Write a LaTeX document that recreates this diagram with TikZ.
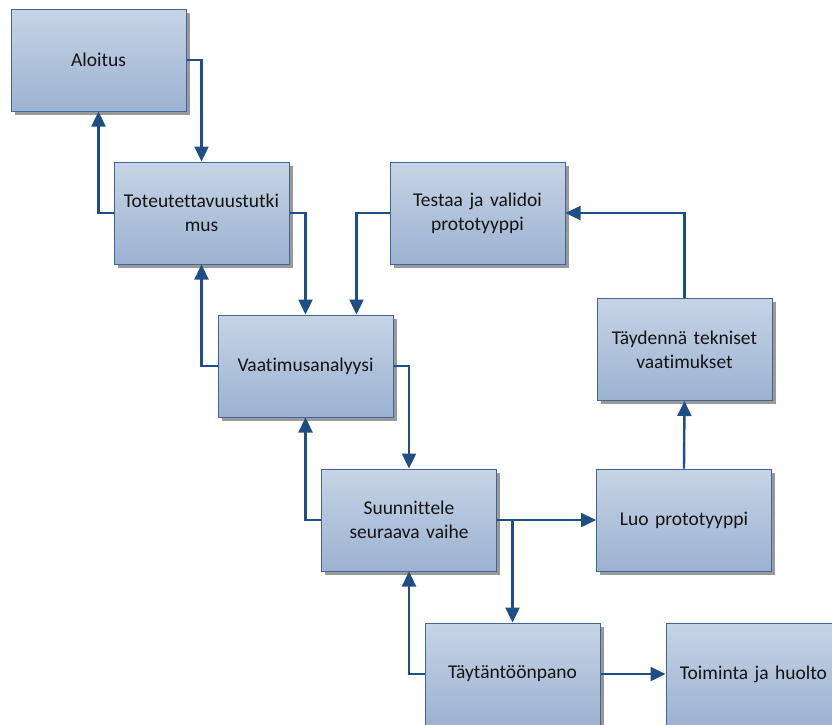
\documentclass[tikz,border=0pt]{standalone}
\usepackage{fontspec}
\setmainfont[Ligatures={NoCommon}]{Carlito}
\usetikzlibrary{arrows.meta,shadows}
\definecolor{boxtop}{HTML}{C6D4E5}
\definecolor{boxbot}{HTML}{9CB2D1}
\definecolor{boxline}{HTML}{3F6698}
\definecolor{linkcol}{HTML}{1F4E87}
\tikzset{
  stage/.style={draw=boxline, line width=1pt, top color=boxtop, bottom color=boxbot,
    minimum width=173pt, minimum height=102pt, align=center, inner sep=2pt,
    text width=171pt, font=\fontsize{19.5}{24}\selectfont, text=black!92,
    drop shadow={shadow xshift=3.5pt, shadow yshift=-3.5pt, fill=black!40, opacity=1}},
  link/.style={draw=linkcol, line width=2.4pt, -{Triangle[length=15pt,width=14pt]}}
}
\begin{document}
\begin{tikzpicture}[x=1pt,y=-1pt]
\useasboundingbox (0,0) rectangle (832,724);
\clip (0,0) rectangle (832,724);
\node[stage] (A)  at (98.5,60)   {Aloitus};
\node[stage] (T)  at (201.5,213) {Toteutettavuustutki\\mus};
\node[stage] (Te) at (477.5,213) {Testaa ja validoi\\prototyyppi};
\node[stage] (V)  at (305.5,366) {Vaatimusanalyysi};
\node[stage] (Td) at (684.5,349.5) {Täydennä tekniset\\vaatimukset};
\node[stage] (S)  at (409,520)   {Suunnittele\\seuraava vaihe};
\node[stage] (L)  at (684,520)   {Luo prototyyppi};
\node[stage] (Ty) at (512.5,674) {Täytäntöönpano};
\node[stage] (To) at (753.5,674) {Toiminta ja huolto};
% flow between the stages
\draw[link] (A.east) -| (T.north);
\draw[link] (T.west) -| (A.south);
\draw[link] (T.east) -| (V.north);
\draw[link] (Te.west) -| ([xshift=51pt]V.north);
\draw[link] (V.west) -| (T.south);
\draw[link] (V.east) -| (S.north);
\draw[link] (S.west) -| (V.south);
\draw[link] (S.east) -- (L.west);
\draw[link] (S.east -| Ty.north) -- (Ty.north);
\draw[link] (Ty.west) -| (S.south);
\draw[link] (Ty.east) -- (To.west);
\draw[link] (L.north) -- (Td.south);
\draw[link] (Td.north) |- (Te.east);
\end{tikzpicture}
\end{document}
